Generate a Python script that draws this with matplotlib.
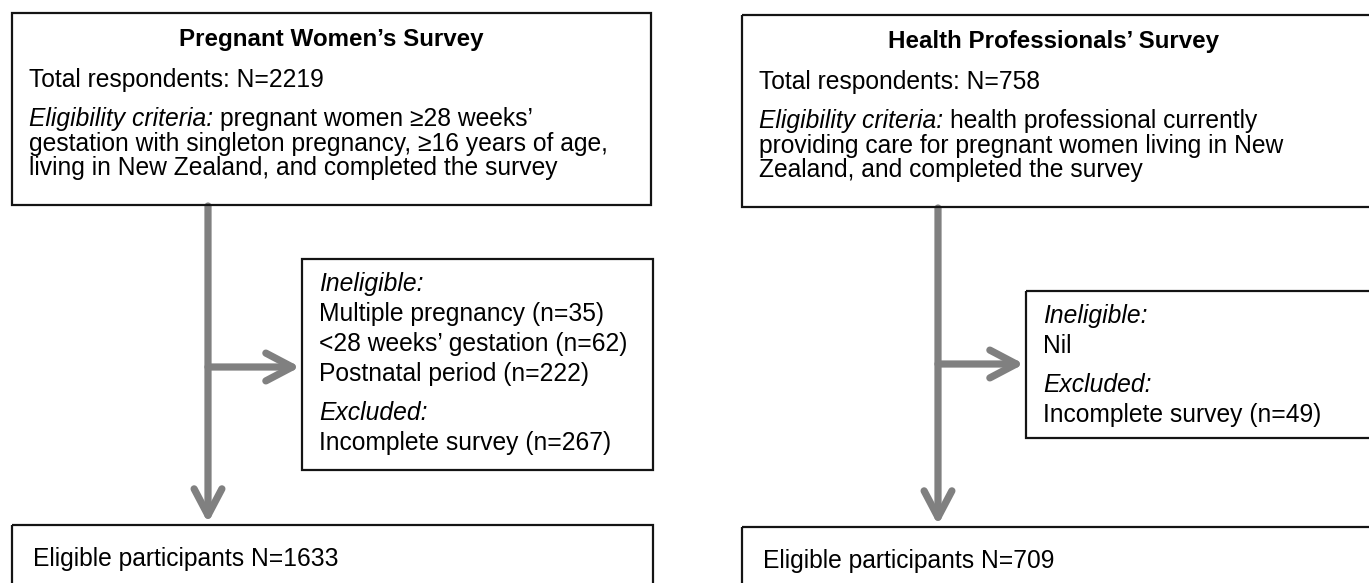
import matplotlib.pyplot as plt
from matplotlib.patches import Rectangle, FancyArrowPatch, ArrowStyle

plt.rcParams['font.family'] = ['Liberation Sans', 'DejaVu Sans']

# chart content
titles = ["Pregnant Women’s Survey", "Health Professionals’ Survey"]
totals = ["Total respondents: N=2219", "Total respondents: N=758"]
criteria = [
    ["pregnant women ≥28 weeks’",
     "gestation with singleton pregnancy, ≥16 years of age,",
     "living in New Zealand, and completed the survey"],
    ["health professional currently",
     "providing care for pregnant women living in New",
     "Zealand, and completed the survey"],
]
ineligible = [
    ["Multiple pregnancy (n=35)", "<28 weeks’ gestation (n=62)", "Postnatal period (n=222)"],
    ["Nil"],
]
excluded = [["Incomplete survey (n=267)"], ["Incomplete survey (n=49)"]]
eligible = ["Eligible participants N=1633", "Eligible participants N=709"]

# layout (pixel coords, y downwards)
top_boxes = [(12, 13, 651, 205), (742, 15, 1375, 207)]
side_boxes = [(302, 259, 653, 470), (1026, 291, 1375, 438)]
bottom_boxes = [(12, 525, 653, 610), (742, 527, 1375, 610)]
stem_x = [208, 938]
branch_y = [367, 364]
title_cx = [331, 1054]

FS = 17.7
FS_TITLE = 17.4
ARROW = '#808080'
EDGE = '#141414'

fig = plt.figure(figsize=(13.69, 5.83), dpi=100)
ax = fig.add_axes([0, 0, 1, 1])
ax.set_xlim(0, 1369)
ax.set_ylim(583, 0)
ax.axis('off')


def box(b):
    x0, y0, x1, y1 = b
    ax.add_patch(Rectangle((x0, y0), x1 - x0, y1 - y0, fill=False,
                           edgecolor=EDGE, linewidth=1.6, zorder=3))


def arrow(p0, p1):
    style = ArrowStyle('->', head_length=1.9, head_width=1.0)
    ax.add_patch(FancyArrowPatch(p0, p1, arrowstyle=style, mutation_scale=10,
                                 color=ARROW, linewidth=5.2, capstyle='round',
                                 joinstyle='round', shrinkA=0, shrinkB=0, zorder=2))


for i in range(2):
    tb, sb, bb = top_boxes[i], side_boxes[i], bottom_boxes[i]
    for b in (tb, sb, bb):
        box(b)

    # top box text
    ax.text(title_cx[i], tb[1] + 33, titles[i], ha='center', va='baseline',
            fontsize=FS_TITLE, fontweight='bold')
    tx = tb[0] + 17
    ax.text(tx, tb[1] + 74, totals[i], ha='left', va='baseline', fontsize=FS)
    lab = ax.text(tx, tb[1] + 113, "Eligibility criteria:", ha='left',
                  va='baseline', fontsize=FS, style='italic')
    ax.annotate(criteria[i][0], xy=(1, 0), xycoords=lab, xytext=(4.9, 0),
                textcoords='offset points', ha='left', va='bottom', fontsize=FS)
    for k, line in enumerate(criteria[i][1:]):
        ax.text(tx, tb[1] + 137.5 + 24.5 * k, line, ha='left', va='baseline',
                fontsize=FS)

    # side box text
    sx = sb[0] + 17
    y = sb[1] + 32
    ax.text(sx, y, "Ineligible:", ha='left', va='baseline', fontsize=FS,
            style='italic')
    for line in ineligible[i]:
        y += 30
        ax.text(sx, y, line, ha='left', va='baseline', fontsize=FS)
    y += 39
    ax.text(sx, y, "Excluded:", ha='left', va='baseline', fontsize=FS,
            style='italic')
    for line in excluded[i]:
        y += 30
        ax.text(sx, y, line, ha='left', va='baseline', fontsize=FS)

    # bottom box text
    ax.text(bb[0] + 21, bb[1] + 41, eligible[i], ha='left', va='baseline',
            fontsize=FS)

    # arrows
    arrow((stem_x[i], tb[3] + 1), (stem_x[i], bb[1] - 2))
    arrow((stem_x[i], branch_y[i]), (sb[0] - 2, branch_y[i]))

fig.savefig('out.png', dpi=100)
